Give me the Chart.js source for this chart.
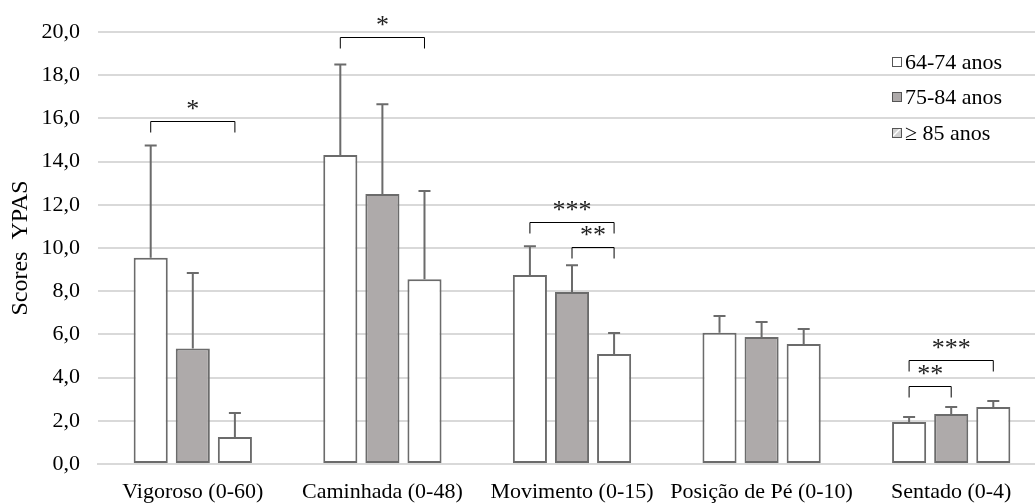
<!DOCTYPE html>
<html>
<head>
<meta charset="utf-8">
<script src="https://cdn.jsdelivr.net/npm/chart.js@4.4.1/dist/chart.umd.min.js"></script>
<style>
  html, body { margin: 0; padding: 0; background: #fff; overflow: hidden; }
  #wrap { width: 1046px; height: 503px; }
</style>
</head>
<body>
<div id="wrap"><canvas id="myChart"></canvas></div>
<script>
// categories and series
let categories = ['Vigoroso (0-60)', 'Caminhada (0-48)', 'Movimento (0-15)', 'Posição de Pé (0-10)', 'Sentado (0-4)'];
let seriesNames = ['64-74 anos', '75-84 anos', '\u2265 85 anos'];
let mean6474 = [9.55, 14.3, 8.75, 6.08, 1.94];
let mean7584 = [5.35, 12.5, 7.96, 5.88, 2.31];
let mean85 = [1.25, 8.55, 5.09, 5.56, 2.64];
// upper end of error bar (mean + sd)
let top6474 = [14.75, 18.5, 10.08, 6.85, 2.18];
let top7584 = [8.84, 16.65, 9.2, 6.57, 2.64];
let top85 = [2.36, 12.64, 6.06, 6.25, 2.92];
let yTicks = [0, 2, 4, 6, 8, 10, 12, 14, 16, 18, 20];

// significance brackets: category, bar from, bar to, level, label
let brackets = [
    { cat: 0, from: 0, to: 2, y: 15.88, label: '*' },
    { cat: 1, from: 0, to: 2, y: 19.77, label: '*' },
    { cat: 2, from: 0, to: 2, y: 11.2, label: '***' },
    { cat: 2, from: 1, to: 2, y: 10.05, label: '**' },
    { cat: 4, from: 0, to: 2, y: 4.81, label: '***' },
    { cat: 4, from: 0, to: 1, y: 3.61, label: '**' }
];

const FONT = 'Liberation Serif';
const EDGE = '#6b6b6b';

function hatchBox(ctx, x, y, s) {
    ctx.fillStyle = '#d0d0d0';
    ctx.fillRect(x, y, s, s);
    ctx.strokeStyle = '#ffffff';
    ctx.lineWidth = 1.5;
    ctx.beginPath();
    ctx.moveTo(x + 1, y + s - 2);
    ctx.lineTo(x + s - 2, y + 1);
    ctx.stroke();
    ctx.strokeStyle = '#555';
    ctx.lineWidth = 1;
    ctx.strokeRect(x + 0.5, y + 0.5, s - 1, s - 1);
}

const extras = {
    id: 'extras',
    afterDatasetsDraw(chart) {
        const ctx = chart.ctx;
        const yScale = chart.scales.y;
        const tops = [top6474, top7584, top85];
        ctx.save();
        // error bars (upper only)
        ctx.strokeStyle = EDGE;
        ctx.lineWidth = 2;
        tops.forEach((arr, di) => {
            const meta = chart.getDatasetMeta(di);
            meta.data.forEach((bar, i) => {
                const yt = yScale.getPixelForValue(arr[i]);
                ctx.beginPath();
                ctx.moveTo(bar.x, bar.y);
                ctx.lineTo(bar.x, yt);
                ctx.moveTo(bar.x - 6, yt);
                ctx.lineTo(bar.x + 6, yt);
                ctx.stroke();
            });
        });
        // brackets
        ctx.strokeStyle = '#000';
        ctx.lineWidth = 1;
        ctx.fillStyle = '#222';
        ctx.font = '26px ' + FONT;
        ctx.textAlign = 'center';
        ctx.textBaseline = 'middle';
        brackets.forEach(b => {
            const x1 = chart.getDatasetMeta(b.from).data[b.cat].x;
            const x2 = chart.getDatasetMeta(b.to).data[b.cat].x;
            const yb = Math.round(yScale.getPixelForValue(b.y)) + 0.5;
            ctx.beginPath();
            ctx.moveTo(x1, yb + 11);
            ctx.lineTo(x1, yb);
            ctx.lineTo(x2, yb);
            ctx.lineTo(x2, yb + 11);
            ctx.stroke();
            ctx.fillText(b.label, (x1 + x2) / 2, yb - 11);
        });
        // legend
        const lx = 892, ly = [62, 97, 133];
        ctx.textAlign = 'left';
        ctx.font = '22px ' + FONT;
        chart.data.datasets.forEach((ds, i) => {
            const y = ly[i];
            if (i === 2) {
                hatchBox(ctx, lx, y - 5, 10);
            } else {
                ctx.fillStyle = ds.backgroundColor;
                ctx.fillRect(lx, y - 5, 10, 10);
                ctx.strokeStyle = '#555';
                ctx.lineWidth = 1;
                ctx.strokeRect(lx + 0.5, y - 4.5, 9, 9);
            }
            ctx.fillStyle = '#000';
            ctx.fillText(ds.label, lx + 13, y + 1);
        });
        ctx.restore();
    }
};

const data = {
    labels: categories,
    datasets: [
        { label: seriesNames[0], data: mean6474, backgroundColor: '#ffffff' },
        { label: seriesNames[1], data: mean7584, backgroundColor: '#aeaaaa' },
        { label: seriesNames[2], data: mean85, backgroundColor: '#ffffff' }
    ].map(d => Object.assign(d, {
        borderColor: EDGE,
        borderWidth: 2,
        borderSkipped: false,
        categoryPercentage: 0.666,
        barPercentage: 0.81
    }))
};

const config = {
    type: 'bar',
    data: data,
    options: {
        responsive: true,
        maintainAspectRatio: false,
        animation: false,
        layout: { padding: { top: 32, right: 0, bottom: 0, left: 0 } },
        plugins: { legend: { display: false }, tooltip: { enabled: false } },
        scales: {
            x: {
                grid: { display: false },
                border: { color: '#d9d9d9', width: 2 },
                ticks: { color: '#000', font: { family: FONT, size: 22 }, padding: 7, maxRotation: 0, autoSkip: false },
                afterFit(scale) { scale.height = 39; }
            },
            y: {
                min: 0,
                max: 20,
                afterBuildTicks(scale) { scale.ticks = yTicks.map(v => ({ value: v })); },
                grid: { color: '#d9d9d9', lineWidth: 2, drawTicks: false },
                border: { display: false },
                ticks: {
                    color: '#000',
                    padding: 18,
                    font: { family: FONT, size: 22 },
                    callback: v => v.toFixed(1).replace('.', ',')
                },
                title: { display: true, text: 'Scores  YPAS', color: '#000', font: { family: FONT, size: 24 }, padding: { top: 6, bottom: 0 } },
                afterFit(scale) { scale.width = 98; }
            }
        }
    },
    plugins: [extras]
};

const chart = new Chart(document.getElementById('myChart'), config);
</script>
</body>
</html>
